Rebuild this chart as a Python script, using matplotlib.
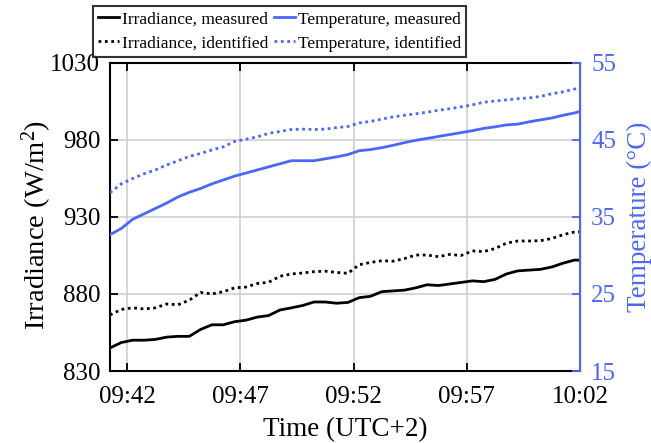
import matplotlib
matplotlib.use("Agg")
import matplotlib.pyplot as plt
import matplotlib.dates as mdates
import pandas as pd

plt.rcParams['font.family'] = ['Liberation Serif', 'DejaVu Serif']
plt.rcParams['mathtext.fontset'] = 'custom'
plt.rcParams['mathtext.rm'] = 'Liberation Serif'
plt.rcParams['mathtext.default'] = 'regular'

# time stamps (UTC+2)
times = ["09:41:15", "09:41:45", "09:42:15", "09:42:45", "09:43:15", "09:43:45",
         "09:44:15", "09:44:45", "09:45:15", "09:45:45", "09:46:15", "09:46:45",
         "09:47:15", "09:47:45", "09:48:15", "09:48:45", "09:49:15", "09:49:45",
         "09:50:15", "09:50:45", "09:51:15", "09:51:45", "09:52:15", "09:52:45",
         "09:53:15", "09:53:45", "09:54:15", "09:54:45", "09:55:15", "09:55:45",
         "09:56:15", "09:56:45", "09:57:15", "09:57:45", "09:58:15", "09:58:45",
         "09:59:15", "09:59:45", "10:00:15", "10:00:45", "10:01:15", "10:01:45",
         "10:02:00"]

irr_meas = [845, 848.5, 850, 850, 850.5, 852, 852.5, 852.5, 857, 860, 860, 862,
            863, 865, 866, 869.6, 871, 872.5, 874.8, 874.8, 874, 874.5, 877.6, 878.5,
            881.5, 882, 882.5, 884, 886, 885.5, 886.5, 887.5, 888.5, 888, 889.5, 893,
            895, 895.5, 896, 897.5, 900, 902, 902]
irr_ident = [866.4, 870, 871, 870.3, 871, 873.5, 873, 876, 881, 880, 881.5, 884,
             884.5, 886.8, 887.6, 891.5, 893, 893.6, 894.5, 894.8, 894, 893.4, 899, 900.5,
             901.6, 901.3, 903, 905.3, 905.3, 904.2, 905.7, 905, 908, 907.5, 909.5, 913,
             914.4, 914.4, 914.6, 916, 918.5, 920.2, 920.4]
temp_meas = [32.7, 33.5, 34.7, 35.4, 36.1, 36.8, 37.6, 38.2, 38.7, 39.3, 39.8, 40.3,
             40.7, 41.1, 41.5, 41.9, 42.3, 42.3, 42.3, 42.55, 42.8, 43.1, 43.6, 43.75,
             44.0, 44.3, 44.65, 44.95, 45.2, 45.45, 45.7, 45.95, 46.2, 46.5, 46.7, 46.95,
             47.05, 47.35, 47.6, 47.85, 48.2, 48.5, 48.7]
temp_ident = [38.15, 39.3, 40.0, 40.6, 41.1, 41.75, 42.3, 42.85, 43.25, 43.7, 44.1, 44.8,
              45.1, 45.4, 45.85, 46.1, 46.35, 46.4, 46.35, 46.4, 46.6, 46.75, 47.2, 47.4,
              47.7, 48.0, 48.2, 48.4, 48.6, 48.85, 49.05, 49.3, 49.55, 49.9, 50.05, 50.2,
              50.35, 50.45, 50.65, 51.0, 51.25, 51.6, 51.8]

xticks = ["09:42", "09:47", "09:52", "09:57", "10:02"]
irr_ticks = [830, 880, 930, 980, 1030]
temp_ticks = [15, 25, 35, 45, 55]

t = pd.to_datetime(["2020-01-01 " + s for s in times])
xt = pd.to_datetime(["2020-01-01 " + s for s in xticks])

blue = '#4a66ff'

fig = plt.figure(figsize=(6.51, 4.43), dpi=100)
ax = fig.add_axes([0.169, 0.1625, 0.722, 0.6955])
ax2 = ax.twinx()

l1, = ax.plot(t, irr_meas, color='black', lw=2, label='Irradiance, measured')
l2, = ax.plot(t, irr_ident, color='black', lw=2, ls=(0, (1, 1.3)), label='Irradiance, identified')
l3, = ax2.plot(t, temp_meas, color=blue, lw=2, label='Temperature, measured')
l4, = ax2.plot(t, temp_ident, color=blue, lw=2, ls=(0, (1, 1.3)), label='Temperature, identified')

ax.set_xlim(pd.Timestamp("2020-01-01 09:41:15"), pd.Timestamp("2020-01-01 10:02:00"))
ax.set_xticks(xt)
ax.xaxis.set_major_formatter(mdates.DateFormatter('%H:%M'))
ax.set_ylim(830, 1030)
ax.set_yticks(irr_ticks)
ax2.set_ylim(15, 55)
ax2.set_yticks(temp_ticks)

ax.grid(True, color='#cfcfcf', lw=1.2)
ax.tick_params(axis='both', direction='in', labelsize=18, width=1.3, length=6, top=True)
ax.tick_params(axis='x', pad=11)
ax.tick_params(axis='y', right=False, pad=7)
ax2.tick_params(axis='y', direction='in', labelsize=18, colors=blue, width=1.3, length=6, pad=8)

for s in ['left', 'bottom', 'top']:
    ax.spines[s].set_linewidth(1.5)
ax2.spines['right'].set_color(blue)
ax2.spines['right'].set_linewidth(1.5)
ax2.spines['left'].set_visible(False)
ax2.spines['top'].set_visible(False)
ax2.spines['bottom'].set_visible(False)

ax.set_xlabel('Time (UTC+2)', fontsize=19.5, labelpad=6)
ax.set_ylabel('Irradiance (W/m$^2$)', fontsize=20.5)
ax.yaxis.set_label_coords(-0.12, 0.474)
ax2.set_ylabel('Temperature (\u00b0C)', fontsize=19.5, color=blue, labelpad=8)

leg = fig.legend([l1, l2, l3, l4],
                 [l1.get_label(), l2.get_label(), l3.get_label(), l4.get_label()],
                 ncol=2, loc='upper left', bbox_to_anchor=(0.143, 0.986),
                 fontsize=12.5, frameon=True, fancybox=False, handlelength=1.2,
                 handletextpad=0.15, columnspacing=0.35, borderpad=0.3,
                 labelspacing=0.45, borderaxespad=0)
leg.get_frame().set_edgecolor('black')
leg.get_frame().set_linewidth(1.5)

fig.savefig('out.png', dpi=100)
